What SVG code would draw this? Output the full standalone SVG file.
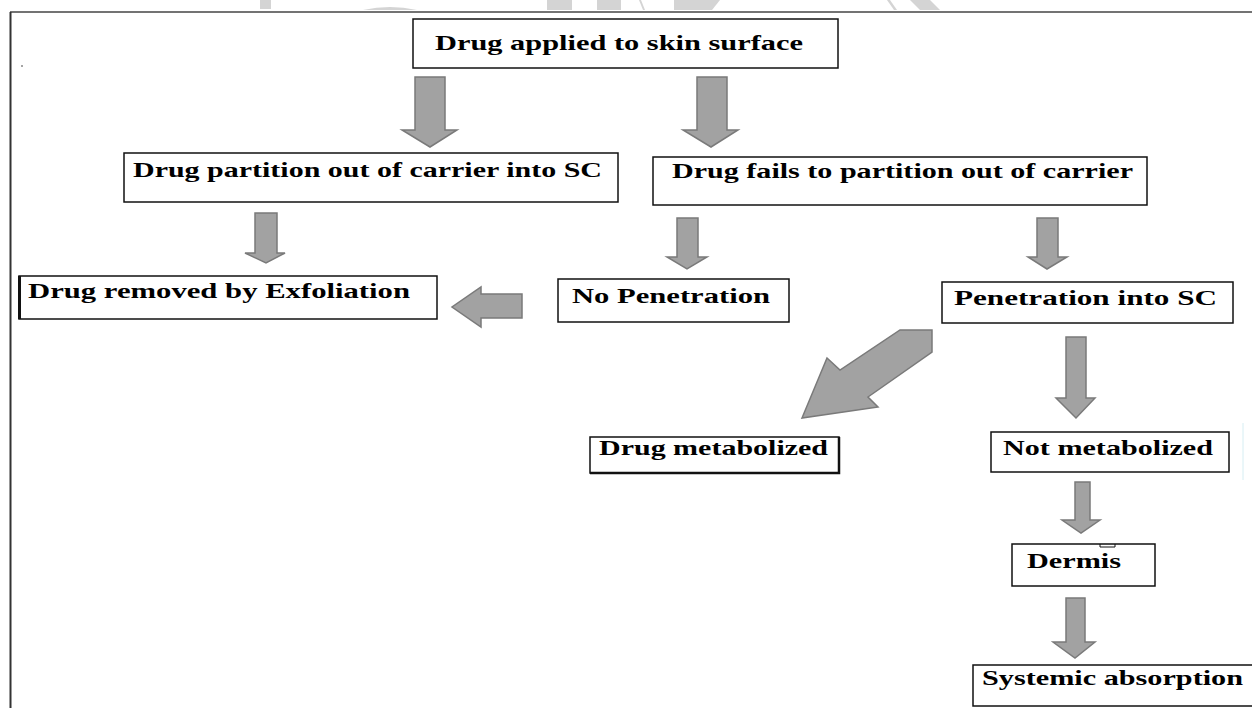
<svg xmlns="http://www.w3.org/2000/svg" width="1252" height="708" viewBox="0 0 1252 708">
<style>
.box{fill:#fff;stroke:#111;stroke-width:1.5}
.t{font-family:"Liberation Serif","Times New Roman",serif;font-weight:bold;font-size:22px;fill:#000}
.arr{fill:#a2a2a2;stroke:#7a7a7a;stroke-width:1.5;stroke-linejoin:miter}
.wm{fill:#d4d4d4}
</style>
<rect x="0" y="0" width="1252" height="708" fill="#fff"/>
<g id="watermark">
<rect class="wm" x="260" y="0" width="11" height="9"/>
<path class="wm" d="M363 10 Q390 4 417 10 Z"/>
<rect class="wm" x="547" y="0" width="25" height="10"/>
<path class="wm" d="M597 0 H621 V10 H597 Z"/>
<path class="wm" d="M639 0 L641 0 L645 10 L643 10 Z"/>
<path class="wm" d="M674 0 H720 L712 10 H674 Z"/>
<path class="wm" d="M887 0 L890 0 L897 10 L894 10 Z"/>
<path class="wm" d="M910 0 H930 L940 10 H920 Z"/>
</g>
<g id="frame">
<line x1="10" y1="12" x2="1252" y2="12" stroke="#444" stroke-width="1.5"/>
<line x1="10.5" y1="12" x2="10.5" y2="708" stroke="#333" stroke-width="2"/>
<circle cx="22" cy="66" r="0.8" fill="#333"/>
<line x1="1243" y1="423" x2="1243" y2="480" stroke="#d6eef3" stroke-width="1"/>
</g>
<g id="connectors">
<path class="arr" d="M415 77 H445 V130 H457 L430 147 L402 130 H415 Z"/>
<path class="arr" d="M697 77 H727 V130 H738 L711 147 L683 130 H697 Z"/>
<path class="arr" d="M255 213 H277 V253 H285 L266 263 L245 253 H255 Z"/>
<path class="arr" d="M677 218 H698 V257 H707 L687 269 L667 257 H677 Z"/>
<path class="arr" d="M1037 218 H1058 V257 H1067 L1047 269 L1028 257 H1037 Z"/>
<path class="arr" d="M1066 337 H1086 V398 H1095 L1076 418 L1056 398 H1066 Z"/>
<path class="arr" d="M1075 482 H1090 V520 H1100 L1081 533 L1062 520 H1075 Z"/>
<path class="arr" d="M1066 598 H1085 V642 H1095 L1075 658 L1053 642 H1066 Z"/>
<path class="arr" d="M522 294 V318 H481 V327 L452 307 L481 287 V294 Z"/>
<path class="arr" d="M900 330 H932 V352 L868 397 L878 407 L802 418 L827 358 L840 370 Z"/>
</g>
<g id="n1"><rect class="box" x="413" y="19" width="425" height="49"/><text class="t" x="435" y="50" textLength="368" lengthAdjust="spacingAndGlyphs">Drug applied to skin surface</text></g>
<g id="n2"><rect class="box" x="124" y="153" width="494" height="49"/><text class="t" x="133" y="177" textLength="469" lengthAdjust="spacingAndGlyphs">Drug partition out of carrier into SC</text></g>
<g id="n3"><rect class="box" x="653" y="157" width="494" height="48"/><text class="t" x="672" y="178" textLength="461" lengthAdjust="spacingAndGlyphs">Drug fails to partition out of carrier</text></g>
<g id="n4"><rect class="box" x="19" y="276" width="418" height="43"/><line x1="19.5" y1="276" x2="19.5" y2="319" stroke="#111" stroke-width="3"/><text class="t" x="28" y="298" textLength="382" lengthAdjust="spacingAndGlyphs">Drug removed by Exfoliation</text></g>
<g id="n5"><rect class="box" x="558" y="279" width="231" height="43"/><text class="t" x="572" y="303" textLength="198" lengthAdjust="spacingAndGlyphs">No Penetration</text></g>
<g id="n6"><rect class="box" x="942" y="282" width="291" height="41"/><text class="t" x="954" y="305" textLength="263" lengthAdjust="spacingAndGlyphs">Penetration into SC</text></g>
<g id="n7"><rect class="box" x="590" y="437" width="249" height="36"/><path d="M839 437 V473 H590" fill="none" stroke="#111" stroke-width="2.5"/><text class="t" x="599" y="455" textLength="229" lengthAdjust="spacingAndGlyphs">Drug metabolized</text></g>
<g id="n8"><rect class="box" x="991" y="432" width="238" height="40"/><text class="t" x="1003" y="455" textLength="210" lengthAdjust="spacingAndGlyphs">Not metabolized</text></g>
<g id="n9"><rect class="box" x="1012" y="544" width="143" height="42"/><path d="M1100 544 V547 H1115 V544" fill="none" stroke="#111" stroke-width="1"/><text class="t" x="1027" y="568" textLength="94" lengthAdjust="spacingAndGlyphs">Dermis</text></g>
<g id="n10"><rect class="box" x="973" y="665" width="290" height="41"/><text class="t" x="982" y="685" textLength="261" lengthAdjust="spacingAndGlyphs">Systemic absorption</text></g>
</svg>
